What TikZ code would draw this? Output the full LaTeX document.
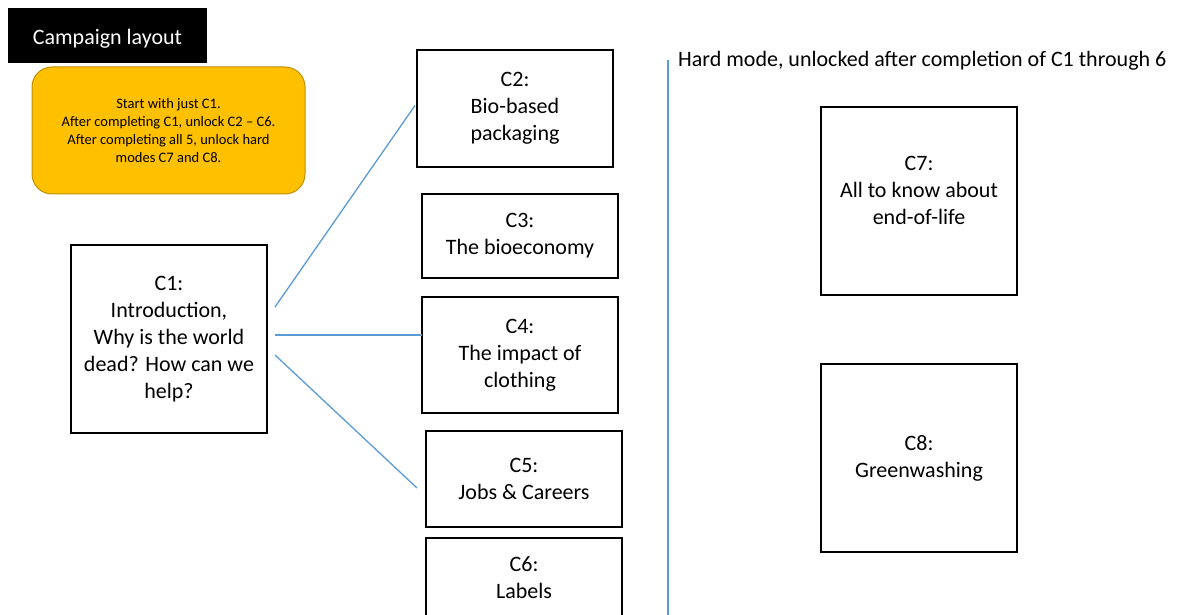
\documentclass[tikz,border=0pt]{standalone}
\usepackage{fontspec}
\setmainfont{Carlito}
\definecolor{linkblue}{HTML}{5B9BD5}
\definecolor{noteorange}{HTML}{FFC000}
\definecolor{noteedge}{HTML}{BF9000}
\tikzset{
  chapter/.style={draw, line width=1.5pt, minimum width=196pt, outer sep=0pt,
    align=center, font=\fontsize{22}{27}\selectfont},
  link/.style={linkblue, line width=1.3pt}
}
\begin{document}
\begin{tikzpicture}[x=1pt,y=-1pt]

  \useasboundingbox (0,0) rectangle (1187,615);
  \clip (0,0) rectangle (1187,615);

  %title and note
  \node[fill=black, text=white, minimum width=199pt, minimum height=55pt,
    text height=22pt, text depth=4pt,
    font=\fontsize{22}{26}\selectfont] (title) at (107.5,35.5) {Campaign layout};
  \node[fill=noteorange, draw=noteedge, line width=1pt, rounded corners=20pt,
    minimum width=273pt, minimum height=127pt, align=center,
    font=\fontsize{14.5}{17.7}\selectfont] (note) at (168.5,130.5)
    {Start with just C1.\\After completing C1, unlock C2 -- C6.\\After completing all 5, unlock hard\\modes C7 and C8.};

  %chapter boxes
  \node[chapter, minimum height=188pt] (c1) at (169,339) {C1:\\Introduction,\\Why is the world\\dead? How can we\\help?};
  \node[chapter, minimum height=117pt] (c2) at (515,108.5) {C2:\\Bio-based\\packaging};
  \node[chapter, minimum height=84pt] (c3) at (520,236) {C3:\\The bioeconomy};
  \node[chapter, minimum height=116pt] (c4) at (520,355) {C4:\\The impact of\\clothing};
  \node[chapter, minimum height=96pt] (c5) at (524,479) {C5:\\Jobs \& Careers};
  \node[chapter, minimum height=80pt] (c6) at (524,578) {C6:\\Labels};

  %hard mode
  \node[chapter, minimum height=188pt] (c7) at (919,201) {C7:\\All to know about\\end-of-life\\[-5pt]};
  \node[chapter, minimum height=188pt] (c8) at (919,458) {C8:\\Greenwashing};
  \node[anchor=west, font=\fontsize{22}{26}\selectfont, inner sep=0pt] (hard) at (678,61)
    {Hard mode, unlocked after completion of C1 through 6};

  %connectors
  \draw[link] ([xshift=8pt,yshift=32pt]c1.east) -- ([xshift=-2pt,yshift=3pt]c2.west);
  \draw[link] ([xshift=8pt,yshift=4pt]c1.east) -- ([yshift=20pt]c4.west);
  \draw[link] ([xshift=8pt,yshift=-16pt]c1.east) -- ([xshift=-9pt,yshift=-9pt]c5.west);
  \coordinate (divtop) at (668,60);
  \coordinate (divbot) at (668,615);
  \draw[link] (divtop) -- (divbot);

\end{tikzpicture}
\end{document}
